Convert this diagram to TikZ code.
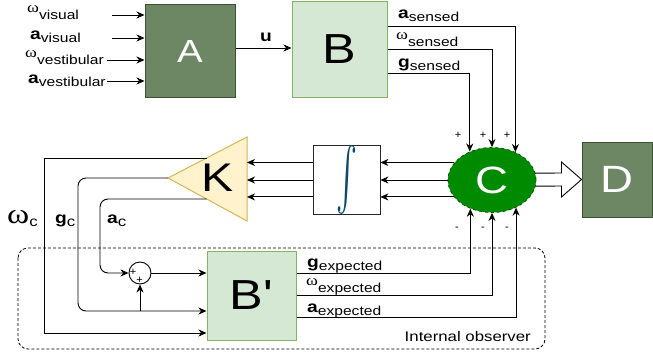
\documentclass[tikz,border=0pt]{standalone}
\usepackage{fontspec}
\setmainfont{Liberation Sans}
\newfontfamily\grk{Liberation Serif}
\usetikzlibrary{arrows.meta,backgrounds,shapes.geometric}
\definecolor{dgfill}{HTML}{6D8764}
\definecolor{dgdraw}{HTML}{3A5431}
\definecolor{lgfill}{HTML}{D5E8D4}
\definecolor{lgdraw}{HTML}{82B366}
\definecolor{cfill}{HTML}{008A00}
\definecolor{cdraw}{HTML}{005700}
\definecolor{kfill}{HTML}{FFF2CC}
\definecolor{kdraw}{HTML}{D6B656}
\definecolor{intcol}{HTML}{0E4A66}
\newcommand{\sx}[1]{\scalebox{1.2}[1]{#1}}
\newcommand{\myfs}[1]{\fontsize{#1}{#1}\selectfont}
\newcommand{\mybold}[1]{{\myfs{16}\bfseries #1}}
\newcommand{\mysubt}[1]{\raisebox{-3pt}{\myfs{13}#1}}
\newcommand{\myomega}{\raisebox{4pt}{\myfs{15}\grk ω}}
\tikzset{
  darkbox/.style={draw=dgdraw, fill=dgfill, line width=1pt, inner sep=0pt, text=white},
  lightbox/.style={draw=lgdraw, fill=lgfill, line width=1pt, inner sep=0pt},
  conn/.style={draw=black, line width=0.9pt, -{Stealth[length=8pt,width=7pt,inset=2.5pt]}},
  lbl/.style={inner sep=0pt, anchor=base west},
  sign/.style={inner sep=0pt, font=\myfs{11}},
}
\begin{document}
\begin{tikzpicture}[x=1pt,y=-1pt]
\useasboundingbox (0,0) rectangle (653,353);
% internal observer frame
\draw[dash pattern=on 3pt off 2pt, rounded corners=10pt, line width=0.8pt] (18,248) rectangle (545,349);
\node[inner sep=0pt, anchor=base east] (io) at (531,341) {\sx{\myfs{14}Internal observer}};
% blocks
\node[darkbox, minimum width=90pt, minimum height=92pt] (A) at (190,51) {\sx{\myfs{32}A}};
\node[lightbox, minimum width=95pt, minimum height=95pt] (B) at (339.5,49.5) {\sx{\myfs{42}B}};
\node[lightbox, minimum width=89pt, minimum height=89pt] (Bp) at (251.5,295.5) {\sx{\myfs{42}B\textquotesingle}};
\node[darkbox, minimum width=70pt, minimum height=75pt] (D) at (617,179.5) {\sx{\myfs{38}D}};
\node[ellipse, draw=cdraw, fill=cfill, dashed, line width=0.8pt, minimum width=88pt, minimum height=65pt, inner sep=0pt, text=white] (C) at (492,180) {\sx{\myfs{38}C}};
\node[draw=black!85, fill=white, line width=0.8pt, minimum width=67pt, minimum height=67pt, inner sep=0pt] (I) at (346.5,179.5) {\textcolor{intcol}{\resizebox{21pt}{50pt}{$\int$}}};
% K gain (triangle)
\draw[draw=kdraw, fill=kfill, line width=1pt] (168,178) -- (247,137) -- (247,221) -- cycle;
\node[inner sep=0pt] (K) at (218,178) {\sx{\myfs{40}K}};
\coordinate (Kapex) at (168,178);
\coordinate (Kbase) at (247,178);
\coordinate (Ktop) at (206.5,158);
\coordinate (Kbot) at (206.5,199);
% sum junction
\node[circle, draw=black, line width=0.9pt, minimum size=22pt, inner sep=0pt] (S) at (140,273) {};
\node[sign] (sp1) at (133,272) {+};
\node[sign] (sp2) at (139.5,280) {+};
% flex arrow C -> D
\begin{scope}[on background layer]
\draw[fill=white, line width=0.9pt] ([yshift=6.5pt]C.center) -- ([xshift=-20pt,yshift=6.5pt]D.west) -- ([xshift=-20pt,yshift=17.5pt]D.west) -- (D.west) -- ([xshift=-20pt,yshift=-17.5pt]D.west) -- ([xshift=-20pt,yshift=-6.5pt]D.west) -- ([yshift=-6.5pt]C.center) -- cycle;
\end{scope}
% inputs to A
\coordinate (in1) at (112,15);
\coordinate (in2) at (112,38);
\coordinate (in3) at (107,60);
\coordinate (in4) at (107,81);
\draw[conn] (in1) -- (in1 -| A.west);
\draw[conn] (in2) -- (in2 -| A.west);
\draw[conn] (in3) -- (in3 -| A.west);
\draw[conn] (in4) -- (in4 -| A.west);
\node[lbl] (l1) at (27,17) {\sx{\myomega\mysubt{visual}}};
\node[lbl] (l2) at (30,40) {\sx{\mybold{a}\mysubt{visual}}};
\node[lbl] (l3) at (25,62) {\sx{\myomega\mysubt{vestibular}}};
\node[lbl] (l4) at (28,83) {\sx{\mybold{a}\mysubt{vestibular}}};
% u
\coordinate (yu) at (0,48);
\draw[conn] (A.east |- yu) -- (B.west |- yu);
\node[lbl] (lu) at (260,42) {\sx{\mybold{u}}};
% B outputs to C
\coordinate (ya) at (0,26);
\coordinate (yw) at (0,49);
\coordinate (yg) at (0,73);
\draw[conn] (B.east |- ya) -| (C.50.3);
\draw[conn] (B.east |- yw) -| (C.north);
\draw[conn] (B.east |- yg) -| (C.128);
\node[lbl] (ls1) at (398,19) {\sx{\mybold{a}\mysubt{sensed}}};
\node[lbl] (ls2) at (396,44) {\sx{\myomega\mysubt{sensed}}};
\node[lbl] (ls3) at (398,67) {\sx{\mybold{g}\mysubt{sensed}}};
\node[sign] (p1) at (458,135) {+};
\node[sign] (p2) at (483,135) {+};
\node[sign] (p3) at (507,135) {+};
% C to integrator to K
\draw[conn] (C.155.6) -- (C.155.6 -| I.east);
\draw[conn] (C.west) -- (C.west -| I.east);
\draw[conn] (C.204.4) -- (C.204.4 -| I.east);
\draw[conn] (I.west |- C.155.6) -- (Kbase |- C.155.6);
\draw[conn] (I.west |- C.west) -- (Kbase |- C.west);
\draw[conn] (I.west |- C.204.4) -- (Kbase |- C.204.4);
% feedback from K
\coordinate (wc) at (44,333);
\coordinate (gc) at (78,311);
\coordinate (ac) at (100,273);
\draw[conn] (Ktop) -| (wc) -- (wc -| Bp.west);
\draw[conn, rounded corners=8pt] (Kapex) -| (gc) -- (gc -| Bp.west);
\draw[conn, rounded corners=8pt] (Kbot) -| (ac) -- (S.west);
\draw[conn] (S.east) -- (S.east -| Bp.west);
\draw[conn] (S.south |- gc) -- (S.south);
\node[lbl] (lwc) at (7,223) {\sx{{\myfs{28}\grk ω}\raisebox{-3pt}{\myfs{14}c}}};
\node[lbl] (lgc) at (55,223) {\sx{\mybold{g}\raisebox{-3pt}{\myfs{14}c}}};
\node[lbl] (lac) at (107,223) {\sx{\mybold{a}\raisebox{-3pt}{\myfs{14}c}}};
% B' outputs to C
\coordinate (ye1) at (0,273);
\coordinate (ye2) at (0,295);
\coordinate (ye3) at (0,317);
\draw[conn] (Bp.east |- ye1) -| (C.233.7);
\draw[conn] (Bp.east |- ye2) -| (C.south);
\draw[conn] (Bp.east |- ye3) -| (C.311.4);
\node[lbl] (le1) at (307,267) {\sx{\mybold{g}\mysubt{expected}}};
\node[lbl] (le2) at (306,289) {\sx{\myomega\mysubt{expected}}};
\node[lbl] (le3) at (307,312) {\sx{\mybold{a}\mysubt{expected}}};
\node[sign] (m1) at (457,229) {-};
\node[sign] (m2) at (483,229) {-};
\node[sign] (m3) at (507,229) {-};
\end{tikzpicture}
\end{document}
